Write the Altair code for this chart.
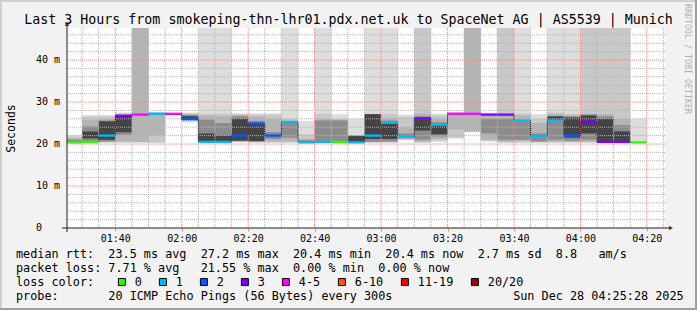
import altair as alt
import pandas as pd

MONO = "DejaVu Sans Mono"

# ---------------- data ----------------
TIMES = ["01:25", "01:30", "01:35", "01:40", "01:45", "01:50", "01:55",
         "02:00", "02:05", "02:10", "02:15", "02:20", "02:25", "02:30",
         "02:35", "02:40", "02:45", "02:50", "02:55", "03:00", "03:05",
         "03:10", "03:15", "03:20", "03:25", "03:30", "03:35", "03:40",
         "03:45", "03:50", "03:55", "04:00", "04:05", "04:10", "04:15"]

MEDIAN = [20.4, 20.5, 22.0, 26.7, 27.0, 27.2, 27.2, 25.9, 20.5, 20.5, 22.0,
          24.9, 22.0, 25.2, 20.4, 20.5, 20.5, 20.4, 22.0, 25.1, 21.8, 26.1,
          24.6, 27.2, 27.2, 27.0, 27.0, 25.6, 21.9, 25.6, 22.0, 25.3, 20.5,
          20.5, 20.4]

LOSS = ["0", "0", "1", "3", "4-5", "1", "4-5", "2", "1", "1", "2", "2", "2",
        "1", "1", "1", "0", "1", "1", "1", "1", "3", "1", "4-5", "4-5", "3",
        "3", "1", "1", "1", "2", "3", "3", "3", "0"]

N = None
# smoke bands (outer -> inner), low / high ping values in ms
B1_LO = [20.2, 20.3, 20.3, 20.3, 20.3, 20.3, 27.0, 25.1, 20.3, 20.3, 20.4, 20.3, 20.3, 20.3, 20.2, 20.3, 20.3, 20.2,
         20.3, 20.3, 20.9, 20.3, 20.5, 21.3, 22.8, 20.6, 20.3, 20.3, 20.3, 20.3, 20.3, 20.3, 20.3, 20.3, 20.3]
B1_HI = [22.1, 26.9, 26.9, 27.5, 55.0, 27.6, 27.5, 27.5, 55.0, 55.0, 27.3, 27.3, 27.3, 55.0, 25.5, 55.0, 27.1, 26.0,
         55.0, 55.0, 27.0, 55.0, 27.2, 27.6, 55.0, 27.4, 55.0, 55.0, 27.1, 55.0, 55.0, 55.0, 55.0, 55.0, 26.0]
B2_LO = [20.3, 20.4, 20.4, 20.4, 20.4, 20.3, 27.1, 25.4, 20.4, 20.4, 20.5, 20.4, 20.4, 20.4, 20.3, 20.4, 20.4, N,
         20.4, 20.4, 21.0, 20.4, 20.8, 21.5, 22.9, 20.7, 20.4, 20.4, 20.4, 20.4, 20.4, 20.4, 20.4, 20.4, N]
B2_HI = [21.8, 26.5, 26.6, 27.3, 55.0, 27.5, 27.4, 27.3, 27.2, 27.2, 27.1, 27.0, 27.0, 26.0, 22.3, 27.2, 25.9, N,
         27.2, 27.2, 26.5, 55.0, 26.8, 27.4, 55.0, 27.2, 55.0, 27.2, 26.0, 27.5, 27.2, 55.0, 55.0, 55.0, N]
B3_LO = [20.4, 20.4, 20.5, 20.6, 20.5, 22.0, N, 25.6, 20.4, 20.4, 20.6, 20.5, 20.6, 20.6, 20.3, 20.4, 20.4, N,
         20.5, 20.5, 21.2, 20.5, 21.2, 23.5, 23.0, 21.0, 20.5, 20.8, 20.5, 20.5, 20.5, 20.5, 20.4, 20.4, N]
B3_HI = [21.4, 25.8, 26.0, 27.1, 55.0, 27.4, N, 27.1, 26.8, 26.6, 26.9, 26.5, 26.0, 25.7, 21.2, 26.0, 25.8, N,
         27.15, 26.2, 24.0, 27.2, 26.0, 27.3, 55.0, 27.1, 27.2, 26.8, 25.0, 27.1, 26.8, 27.2, 27.1, 26.0, N]
B4_LO = [20.4, 20.5, 20.6, 22.2, N, N, N, 25.7, 20.5, 20.5, 20.7, 20.6, 21.2, 21.5, 20.3, 20.5, 20.5, N,
         20.5, 20.6, 21.4, 21.0, 21.8, N, N, 22.5, 21.0, 21.0, 20.6, 21.0, 20.8, 21.0, 20.5, 20.5, N]
B4_HI = [21.0, 24.2, 25.6, 27.0, N, N, N, 26.9, 25.8, 25.0, 26.6, 25.5, 22.8, 25.4, 20.9, 25.6, 25.6, N,
         27.1, 25.6, 22.5, 26.6, 25.2, N, N, 26.0, 26.0, 25.5, 22.5, 26.6, 26.6, 27.0, 26.6, 24.5, N]
B5_LO = [N, 21.3, 21.0, 22.8, N, N, N, 25.8, 20.6, 20.5, 20.8, 20.7, N, N, N, N, N, 20.3,
         21.2, 21.2, N, 23.2, 22.3, N, N, N, N, N, N, 25.7, 21.5, 22.5, 20.5, 20.5, N]
B5_HI = [N, 23.0, 25.4, 26.9, N, N, N, 26.6, 22.5, 22.0, 26.0, 24.8, N, N, N, N, N, 22.0,
         27.1, 24.8, N, 26.3, 24.4, N, N, N, N, N, N, 26.6, 26.3, 26.8, 26.0, 23.0, N]

BANDS = [(B1_LO, B1_HI, "#dddddd"), (B2_LO, B2_HI, "#c8c8c8"),
         (B3_LO, B3_HI, "#b4b4b4"), (B4_LO, B4_HI, "#8c8c8c"),
         (B5_LO, B5_HI, "#444444")]

LOSS_LABELS = ["0", "1", "2", "3", "4-5", "6-10", "11-19", "20/20"]
LOSS_COLORS = ["#26ff00", "#00b8ff", "#0059ff", "#7e00ff", "#ff00ff",
               "#ff5500", "#ff0000", "#a10000"]

Y_TICKS = [0, 10, 20, 30, 40]
Y_LABELS = [" 0", "10 m", "20 m", "30 m", "40 m"]
Y_MINOR = [2, 4, 6, 8, 12, 14, 16, 18, 22, 24, 26, 28, 32, 34, 36, 38, 42, 44, 46]
X_TICKS = ["01:40", "02:00", "02:20", "02:40", "03:00", "03:20", "03:40", "04:00", "04:20"]
X_MINOR = ["01:30", "01:35", "01:45", "01:50", "01:55", "02:05", "02:10", "02:15",
           "02:25", "02:30", "02:35", "02:45", "02:50", "02:55", "03:05", "03:10",
           "03:15", "03:25", "03:30", "03:35", "03:45", "03:50", "03:55", "04:05",
           "04:10", "04:15", "04:25"]

TITLE = "Last 3 Hours from smokeping-thn-lhr01.pdx.net.uk to SpaceNet AG | AS5539 | Munich"
ROW1 = "median rtt:  23.5 ms avg  27.2 ms max  20.4 ms min  20.4 ms now  2.7 ms sd  8.8   am/s"
ROW2 = "packet loss: 7.71 % avg   21.55 % max  0.00 % min  0.00 % now"
ROW4 = "probe:       20 ICMP Echo Pings (56 Bytes) every 300s                 Sun Dec 28 04:25:28 2025"
WATERMARK = "RRDTOOL / TOBI OETIKER"


def to_min(s):
    h, m = s.split(":")
    return int(h) * 60 + int(m)


def nb(s):
    return s.replace(" ", "\u00a0")


STEP = 5
X_MIN = to_min("01:25") + 28 / 60
X_MAX = to_min("04:25") + 28 / 60
Y_MAX = 47.62
W, H = 598, 200
PAD_L, PAD_T = 67, 28

xs = alt.Scale(domain=[X_MIN, X_MAX], nice=False, zero=False)
ys = alt.Scale(domain=[0, Y_MAX], nice=False, zero=False)

GRID = "#b4b4b4"
MGRID = "#e98a8a"

label_expr_x = ("(floor(datum.value/60) < 10 ? '0' : '') + floor(datum.value/60) + ':' + "
                "(datum.value % 60 < 10 ? '0' : '') + (datum.value % 60)")
X_AXIS = alt.Axis(
    values=[to_min(s) for s in X_TICKS], labelExpr=label_expr_x,
    grid=False, domain=False, ticks=True, tickColor=MGRID, tickSize=3,
    labelFont=MONO, labelFontSize=10, labelColor="black",
    labelBaseline="alphabetic", labelPadding=10, labelFlush=False,
    labelOverlap=False, title=None)
Y_AXIS = alt.Axis(
    values=Y_TICKS, labels=False,
    grid=False, domain=False, ticks=False,
    title="Seconds", titleFont=MONO, titleFontSize=11.5,
    titleFontWeight="normal", titleColor="black", titleAngle=270,
    titleX=-56, titleY=H / 2, titleAlign="center",
    titleBaseline="middle")


def X(field):
    return alt.X(field, scale=xs, axis=X_AXIS, title=None)


def Y(field):
    return alt.Y(field, scale=ys, axis=Y_AXIS, title="Seconds")


t0 = [to_min(s) for s in TIMES]
t1 = [t + STEP for t in t0]

layers = []

# smoke
for lo, hi, col in BANDS:
    rows = [dict(t0=a, t1=b, lo=l, hi=h) for a, b, l, h in zip(t0, t1, lo, hi)
            if l is not None and h is not None]
    layers.append(
        alt.Chart(pd.DataFrame(rows)).mark_rect(clip=True, color=col).encode(
            x=X("t0:Q"), x2="t1:Q", y=Y("lo:Q"), y2="hi:Q")
    )

# grid
layers.append(
    alt.Chart(pd.DataFrame({"v": [to_min(s) for s in X_MINOR]})).mark_rule(
        color=GRID, strokeDash=[1, 1], strokeWidth=1, clip=True).encode(x=X("v:Q"))
)
layers.append(
    alt.Chart(pd.DataFrame({"v": Y_MINOR})).mark_rule(
        color=GRID, strokeDash=[1, 1], strokeWidth=1).encode(y=Y("v:Q"))
)
layers.append(
    alt.Chart(pd.DataFrame({"v": [to_min(s) for s in X_TICKS]})).mark_rule(
        color=MGRID, strokeDash=[1, 1], strokeWidth=1).encode(x=X("v:Q"))
)
layers.append(
    alt.Chart(pd.DataFrame({"v": Y_TICKS[1:]})).mark_rule(
        color=MGRID, strokeDash=[1, 1], strokeWidth=1).encode(y=Y("v:Q"))
)

# y tick labels (left aligned, monospace columns like rrdtool)
layers.append(
    alt.Chart(pd.DataFrame({"v": [float(v) for v in Y_TICKS],
                            "lab": [nb(s) for s in Y_LABELS]})).mark_text(
        font=MONO, fontSize=10, align="left", baseline="middle", color="black",
        clip=False).encode(
        y=Y("v:Q"), x=alt.value(36 - PAD_L), text="lab:N")
)

med = pd.DataFrame({"t0": t0, "t1": t1, "med": MEDIAN, "loss": LOSS})

# median step connector (black dotted)
layers.append(
    alt.Chart(med).mark_line(interpolate="step-after", color="black",
                             strokeWidth=1, strokeDash=[1, 1], clip=True).encode(
        x=X("t0:Q"), y=Y("med:Q"))
)

# median coloured by loss
layers.append(
    alt.Chart(med).transform_calculate(
        lo="datum.med - 0.27", hi="datum.med + 0.27"
    ).mark_rect(clip=True).encode(
        x=X("t0:Q"), x2="t1:Q", y=Y("lo:Q"), y2="hi:Q",
        color=alt.Color("loss:N", scale=alt.Scale(domain=LOSS_LABELS, range=LOSS_COLORS),
                        legend=alt.Legend(
                            orient="none", legendX=16 - PAD_L, legendY=248,
                            direction="horizontal", title="loss color:",
                            titleOrient="left", titleFont=MONO, titleFontSize=11.8,
                            titleFontWeight="normal", titleColor="black",
                            titlePadding=21, titleBaseline="middle",
                            titleAnchor="middle",
                            labelFont=MONO, labelFontSize=11.8, labelColor="black",
                            labelOffset=7, columnPadding=15, symbolType="square",
                            symbolSize=49, symbolStrokeColor="black",
                            symbolStrokeWidth=1, symbolOpacity=1, padding=0,
                            labelBaseline="middle")),
    )
)

one = pd.DataFrame({"k": [0]})
AXIS = "#1f1f1f"
ARROW = "#801f1f"
# axis lines and arrows
layers.append(alt.Chart(one).mark_rule(color=AXIS, strokeWidth=1).encode(
    x=alt.value(0), y=alt.value(H + 4), y2=alt.value(-3)))
layers.append(alt.Chart(one).mark_rule(color=AXIS, strokeWidth=1).encode(
    x=alt.value(-5), x2=alt.value(W + 4), y=alt.value(H)))
layers.append(alt.Chart(one).mark_point(shape="triangle-up", filled=True, size=22,
                                        color=ARROW, opacity=1).encode(
    x=alt.value(0), y=alt.value(-4)))
layers.append(alt.Chart(one).mark_point(shape="triangle-right", filled=True, size=22,
                                        color=ARROW, opacity=1).encode(
    x=alt.value(W + 6), y=alt.value(H)))


# texts
def text_layer(s, x, y, size, align="left"):
    return alt.Chart(pd.DataFrame({"t": [nb(s)]})).mark_text(
        font=MONO, fontSize=size, align=align, baseline="alphabetic",
        color="black").encode(
        text="t:N", x=alt.value(x), y=alt.value(y))


layers.append(text_layer(TITLE, 348.5 - PAD_L, 24 - PAD_T, 13.3, align="center"))
layers.append(text_layer(ROW1, 16 - PAD_L, 258.3 - PAD_T, 11.8))
layers.append(text_layer(ROW2, 16 - PAD_L, 272.3 - PAD_T, 11.8))
layers.append(text_layer(ROW4, 16 - PAD_L, 300.3 - PAD_T, 11.8))
layers.append(
    alt.Chart(pd.DataFrame({"t": [nb(WATERMARK)]})).mark_text(
        font=MONO, fontSize=8.3, align="center", baseline="middle",
        color="#b0b0b0", angle=90).encode(
        text="t:N", x=alt.value(687 - PAD_L), y=alt.value(59 - PAD_T))
)

# frame
layers.append(alt.Chart(one).mark_rule(color="#cfcfcf", strokeWidth=2).encode(
    x=alt.value(-PAD_L), x2=alt.value(697 - PAD_L), y=alt.value(-PAD_T + 1)))
layers.append(alt.Chart(one).mark_rule(color="#cfcfcf", strokeWidth=2).encode(
    x=alt.value(-PAD_L + 1), y=alt.value(-PAD_T), y2=alt.value(310 - PAD_T)))
layers.append(alt.Chart(one).mark_rule(color="#9e9e9e", strokeWidth=2).encode(
    x=alt.value(-PAD_L), x2=alt.value(697 - PAD_L), y=alt.value(310 - PAD_T - 1)))
layers.append(alt.Chart(one).mark_rule(color="#9e9e9e", strokeWidth=2).encode(
    x=alt.value(697 - PAD_L - 1), y=alt.value(-PAD_T), y2=alt.value(310 - PAD_T)))

chart = alt.layer(*layers).properties(
    width=W, height=H,
    background="#f2f2f2",
    autosize=alt.AutoSizeParams(type="none"),
    padding={"left": PAD_L, "top": PAD_T, "right": 697 - PAD_L - W, "bottom": 310 - PAD_T - H},
).configure_view(fill="white", stroke=None)

chart.save("out.html", embed_options={"renderer": "svg", "actions": False})
